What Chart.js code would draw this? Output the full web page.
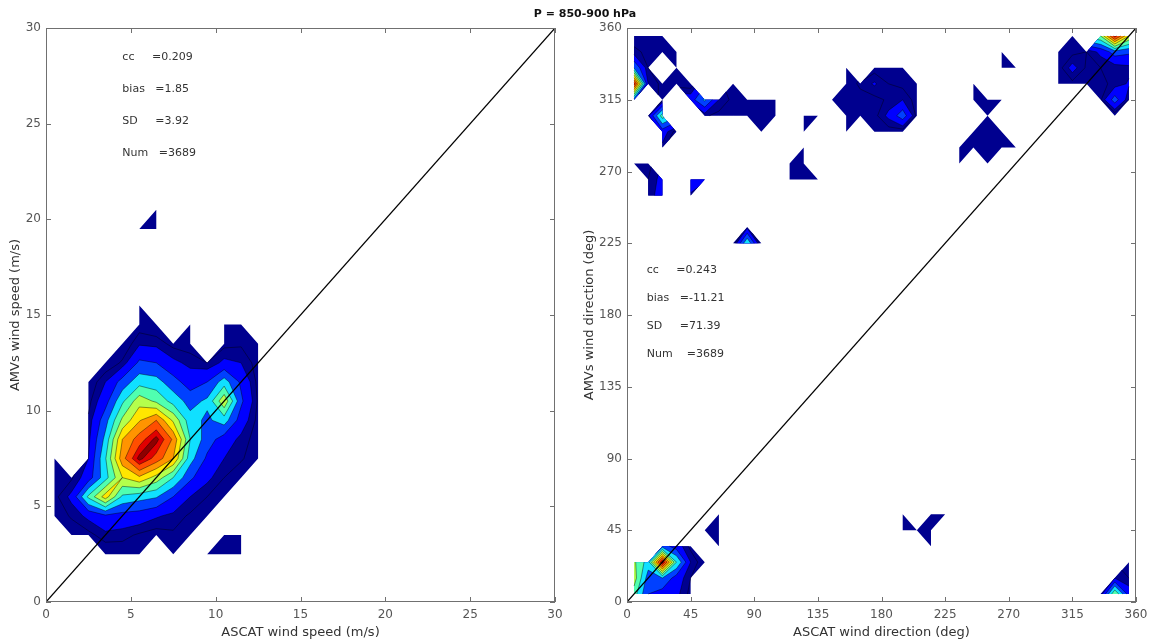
<!DOCTYPE html>
<html>
<head>
<meta charset="utf-8">
<title>P = 850-900 hPa</title>
<script src="https://cdn.jsdelivr.net/npm/chart.js@4.4.1/dist/chart.umd.min.js"></script>
<style>
  html, body { margin: 0; padding: 0; background: #fff; }
  body { width: 1155px; height: 643px; position: relative; overflow: hidden; }
  canvas { position: absolute; top: 0; }
  #speedChart { left: 0; }
  #dirChart { left: 575px; }
  #title { position: absolute; top: 7px; left: 0; width: 1170px; text-align: center;
           font: bold 11px "DejaVu Sans", sans-serif; color: #111; }
</style>
</head>
<body>
<canvas id="speedChart" width="575" height="643"></canvas>
<canvas id="dirChart" width="580" height="643"></canvas>
<div id="title">P = 850-900 hPa</div>
<script>
const n = null;

// speed bin centres (m/s)
const speedX = [0.5, 1.5, 2.5, 3.5, 4.5, 5.5, 6.5, 7.5, 8.5, 9.5, 10.5, 11.5, 12.5];
const speedY = [0.5, 1.5, 2.5, 3.5, 4.5, 5.5, 6.5, 7.5, 8.5, 9.5, 10.5,
                11.5, 12.5, 13.5, 14.5, 15.5, 16.5, 17.5, 18.5, 19.5, 20.5];

// density of AMV speed (rows, from 20.5 down to 0.5) vs ASCAT speed (columns)
const speedRows = [
  [n, n, n, n, n, n, 0, n, n, n, n, n, n],
  [n, n, n, n, n, 0, 0, n, n, n, n, n, n],
  [n, n, n, n, n, n, n, n, n, n, n, n, n],
  [n, n, n, n, n, n, n, n, n, n, n, n, n],
  [n, n, n, n, n, n, n, n, n, n, n, n, n],
  [n, n, n, n, n, 0, n, n, n, n, n, n, n],
  [n, n, n, n, n, 0.2, 0, n, 0, n, 0, 0, n],
  [n, n, n, n, 0, 0.9, 0.8, 0.3, 0.2, n, 0.3, 0.4, 0],
  [n, n, n, 0, 0.6, 2.2, 2.0, 1.2, 0.8, 0.5, 1.2, 1.0, 0.2],
  [n, n, 0, 1.0, 2.4, 3.6, 3.4, 2.4, 1.5, 2.0, 3.5, 1.8, 0.3],
  [n, n, 0.3, 1.6, 3.8, 5.6, 4.8, 3.6, 2.6, 3.2, 5.8, 2.2, 0.4],
  [n, n, 0.6, 2.6, 5.2, 6.9, 8.0, 5.8, 3.4, 2.8, 3.5, 1.5, 0.3],
  [n, n, 0.8, 3.3, 7.0, 8.5, 10, 7.8, 4.0, 2.5, 1.5, 0.8, 0.2],
  [0, n, 1.0, 3.9, 7.6, 10, 8.6, 7.0, 3.4, 1.8, 1.0, 0.6, 0],
  [0.2, 0.4, 1.5, 3.6, 6.0, 6.8, 5.6, 4.0, 2.2, 1.2, 0.5, 0, n],
  [0.3, 1.2, 4.2, 6.5, 3.8, 3.4, 3.1, 2.0, 1.0, 0.5, 0, n, n],
  [0, 0.6, 1.2, 1.8, 1.6, 1.5, 1.1, 0.8, 0.4, 0, n, n, n],
  [n, 0, 0.3, 0.8, 0.7, 0.4, 0.2, 0.4, 0, n, 0, 0, n],
  [n, n, n, 0, 0.1, 0, n, 0, n, 0, 0, 0, n],
  [n, n, n, n, n, n, n, n, n, n, n, n, n],
  [n, n, n, n, n, n, n, n, n, n, n, n, n]
];

// direction bin centres (deg)
const dirCenters = [5, 15, 25, 35, 45, 55, 65, 75, 85, 95, 105, 115, 125, 135, 145, 155, 165, 175,
                    185, 195, 205, 215, 225, 235, 245, 255, 265, 275, 285, 295, 305, 315, 325, 335, 345, 355];

// direction density: [ASCAT dir, AMV dir, value], empty bins left out
const dirBins = [
  [5,355,0.3],[15,355,0.2],[25,355,0],
  [5,345,0.6],[15,345,0.4],[25,345,0.2],[35,345,0],
  [5,335,3],[15,335,0.5],[35,335,0.1],
  [5,325,9.5],[15,325,1.0],[25,325,0.3],[35,325,0.2],[45,325,0.1],[75,325,0],
  [5,315,2.5],[25,315,0.3],[45,315,1.5],[55,315,3.2],[65,315,1.0],[75,315,0.3],[85,315,0.2],[95,315,0.1],[105,315,0],
  [15,305,0.8],[25,305,4.5],[55,305,0.6],[65,305,0.3],[75,305,0.2],[85,305,0.1],[95,305,0.2],[105,305,0],
  [25,295,1.5],[35,295,0.2],[95,295,0],
  [25,285,0.8],
  [5,275,0],[15,275,0.3],[15,265,0.5],[25,265,1.3],[15,255,0.6],[25,255,1.5],
  [45,265,1.5],[55,265,1.1],[45,255,0.9],
  [125,305,0],[135,305,0],[125,295,0],
  [125,285,0],[115,275,0],[125,275,0.3],[115,265,0.1],[125,265,0.2],[135,265,0],
  [155,335,0],[175,335,0.2],[185,335,0.3],[195,335,0],
  [155,325,0.2],[165,325,0.6],[175,325,1.1],[185,325,0.5],[195,325,0.3],[205,325,0],
  [145,315,0],[155,315,0.4],[165,315,0.3],[175,315,0.3],[185,315,0.6],[195,315,1.0],[205,315,0.2],
  [155,305,0.1],[165,305,0.1],[175,305,0.3],[185,305,1.2],[195,305,2.6],[205,305,0.3],
  [155,295,0],[175,295,0],[185,295,0.2],[195,295,0.1],
  [265,345,0],[265,335,0],[275,335,0],
  [245,325,0],[245,315,0],[255,315,0.2],[265,315,0],[255,305,0],
  [245,295,0.1],[255,295,0.3],[265,295,0.1],[235,285,0],[245,285,0.2],[255,285,0.4],[265,285,0.2],[275,285,0],
  [235,275,0],[255,275,0],
  [315,355,0],[335,355,5],[345,355,9.5],[355,355,6],
  [305,345,0],[315,345,0.3],[325,345,0.5],[335,345,1.2],[345,345,2.5],[355,345,2.2],
  [305,335,0.2],[315,335,1.3],[325,335,0.4],[335,335,0.5],[345,335,0.6],[355,335,0.8],
  [305,325,0],[315,325,0.3],[325,325,0.2],[335,325,0.4],[345,325,0.6],[355,325,1.1],
  [335,315,0.4],[345,315,2.5],[355,315,0.5],
  [345,305,0],
  [75,225,0],[85,225,4],[95,225,0],[85,235,0.8],
  [65,55,0],[65,45,0],[65,35,0],[55,45,0],
  [25,35,2.5],[35,35,1.5],[45,35,0.3],
  [5,25,5.2],[15,25,3.5],[25,25,10],[35,25,4],[45,25,1],[55,25,0],
  [5,15,5.5],[15,15,2.5],[25,15,3],[35,15,1.5],[45,15,0.5],
  [5,5,4.5],[15,5,2],[25,5,1.5],[35,5,1.2],[45,5,0.3],
  [195,55,0],[195,45,0],[205,45,0],[215,55,0],[225,55,0],[215,45,0],[215,35,0],
  [335,5,0.5],[345,5,5],[355,5,1.5],[345,15,1],[355,15,0.5],[355,25,0]
];

const speedStats = ['cc     =0.209', 'bias   =1.85', 'SD     =3.92', 'Num   =3689'];
const dirStats = ['cc     =0.243', 'bias   =-11.21', 'SD     =71.39', 'Num    =3689'];

const levels = [0, 0.5, 1, 2, 3, 4, 5, 6, 7, 8, 9, 9.7];
const levelColors = ['#00008f', '#00008f', '#0000ff', '#0040ff', '#10e0ff', '#50ffb0',
                     '#b4ff4c', '#ffe600', '#ff9400', '#ff4e00', '#e00000', '#8c0000'];

Chart.defaults.font.family = '"DejaVu Sans", sans-serif';

const speedGrid = speedRows.slice().reverse();
const dirGrid = dirCenters.map(() => dirCenters.map(() => null));
dirBins.forEach(([x, y, v]) => {
  dirGrid[dirCenters.indexOf(y)][dirCenters.indexOf(x)] = v;
});

// keep the part of a cell where value >= lv
function clipCell(pts, lv) {
  const out = [];
  for (let i = 0; i < pts.length; i++) {
    const a = pts[i], b = pts[(i + 1) % pts.length];
    const ain = a.v >= lv, bin = b.v >= lv;
    if (ain) out.push(a);
    if (ain !== bin) {
      const t = (lv - a.v) / (b.v - a.v);
      out.push({x: a.x + t * (b.x - a.x), y: a.y + t * (b.y - a.y), v: lv});
    }
  }
  return out;
}

function isoSegments(pts, lv) {
  const cross = [];
  for (let i = 0; i < pts.length; i++) {
    const a = pts[i], b = pts[(i + 1) % pts.length];
    const ain = a.v >= lv, bin = b.v >= lv;
    if (ain !== bin) {
      const t = (lv - a.v) / (b.v - a.v);
      cross.push({x: a.x + t * (b.x - a.x), y: a.y + t * (b.y - a.y), exit: ain});
    }
  }
  if (cross.length < 2) return [];
  const s = cross.findIndex(c => c.exit);
  const segs = [];
  for (let k = 0; k < cross.length; k += 2) {
    segs.push([cross[(s + k) % cross.length], cross[(s + k + 1) % cross.length]]);
  }
  return segs;
}

function contourPlugin(grid, xc, yc) {
  return {
    id: 'contour',
    beforeDatasetsDraw(chart) {
      const {ctx, scales} = chart;
      const cells = [];
      for (let j = 0; j < yc.length - 1; j++) {
        for (let k = 0; k < xc.length - 1; k++) {
          const corners = [[k, j], [k + 1, j], [k + 1, j + 1], [k, j + 1]]
            .filter(([a, b]) => grid[b][a] != null);
          if (corners.length < 3) continue;
          cells.push(corners.map(([a, b]) => ({
            x: scales.x.getPixelForValue(xc[a]),
            y: scales.y.getPixelForValue(yc[b]),
            v: grid[b][a]
          })));
        }
      }
      ctx.save();
      levels.forEach((lv, i) => {
        ctx.beginPath();
        cells.forEach(p => {
          const c = clipCell(p, lv);
          if (c.length < 3) return;
          ctx.moveTo(c[0].x, c[0].y);
          for (let q = 1; q < c.length; q++) ctx.lineTo(c[q].x, c[q].y);
          ctx.closePath();
        });
        ctx.fillStyle = levelColors[i];
        ctx.fill();
      });
      ctx.beginPath();
      levels.slice(1).forEach(lv => {
        cells.forEach(p => {
          isoSegments(p, lv).forEach(([a, b]) => { ctx.moveTo(a.x, a.y); ctx.lineTo(b.x, b.y); });
        });
      });
      ctx.strokeStyle = 'rgba(0,0,0,0.6)';
      ctx.lineWidth = 0.7;
      ctx.stroke();
      ctx.restore();
    }
  };
}

function framePlugin(stats, anchor, lineGap) {
  return {
    id: 'frame',
    afterDraw(chart) {
      const {ctx, chartArea: a, scales: {x, y}} = chart;
      ctx.save();
      ctx.strokeStyle = '#707070';
      ctx.lineWidth = 1;
      ctx.strokeRect(a.left + 0.5, a.top + 0.5, a.right - a.left - 1, a.bottom - a.top - 1);
      ctx.beginPath();
      x.ticks.forEach(t => {
        const px = Math.round(x.getPixelForValue(t.value)) + 0.5;
        ctx.moveTo(px, a.bottom); ctx.lineTo(px, a.bottom - 5);
        ctx.moveTo(px, a.top); ctx.lineTo(px, a.top + 5);
      });
      y.ticks.forEach(t => {
        const py = Math.round(y.getPixelForValue(t.value)) + 0.5;
        ctx.moveTo(a.left, py); ctx.lineTo(a.left + 5, py);
        ctx.moveTo(a.right, py); ctx.lineTo(a.right - 5, py);
      });
      ctx.stroke();
      ctx.fillStyle = '#333';
      ctx.font = '11px "DejaVu Sans", sans-serif';
      ctx.textBaseline = 'middle';
      const sx = x.getPixelForValue(anchor[0]);
      const sy = y.getPixelForValue(anchor[1]);
      stats.forEach((s, i) => ctx.fillText(s, sx, sy + i * lineGap));
      ctx.restore();
    }
  };
}

function makeChart(id, cfg) {
  const tickFont = {size: 12};
  return new Chart(document.getElementById(id), {
    type: 'scatter',
    data: {
      datasets: [{
        type: 'line',
        data: [{x: cfg.max, y: cfg.max}, {x: 0, y: 0}],
        borderColor: '#000',
        borderWidth: 1.2,
        pointRadius: 0,
        fill: false
      }]
    },
    options: {
      responsive: false,
      animation: false,
      layout: {padding: {left: 0, right: cfg.padRight, top: 28, bottom: 0}},
      plugins: {legend: {display: false}, tooltip: {enabled: false}},
      scales: {
        x: {
          type: 'linear', min: 0, max: cfg.max,
          ticks: {stepSize: cfg.step, color: '#555', font: tickFont, padding: 6, maxRotation: 0, autoSkip: false},
          grid: {display: false, drawTicks: false},
          border: {display: false},
          title: {display: true, text: cfg.xTitle, color: '#333', font: {size: 13}, padding: {top: 0, bottom: 3}},
          afterFit(s) { s.height = 41; }
        },
        y: {
          type: 'linear', min: 0, max: cfg.max,
          ticks: {stepSize: cfg.step, color: '#555', font: tickFont, padding: 5, autoSkip: false},
          grid: {display: false, drawTicks: false},
          border: {display: false},
          title: {display: true, text: cfg.yTitle, color: '#333', font: {size: 13}, padding: {top: cfg.yTitlePad, bottom: 0}},
          afterFit(s) { s.width = cfg.yWidth; }
        }
      }
    },
    plugins: [cfg.contour, cfg.frame]
  });
}

makeChart('speedChart', {
  max: 30, step: 5, padRight: 20, yWidth: 46, yTitlePad: 8,
  xTitle: 'ASCAT wind speed (m/s)', yTitle: 'AMVs wind speed (m/s)',
  contour: contourPlugin(speedGrid, speedX, speedY),
  frame: framePlugin(speedStats, [4.5, 28.5], 32)
});

makeChart('dirChart', {
  max: 360, step: 45, padRight: 19, yWidth: 52, yTitlePad: 7,
  xTitle: 'ASCAT wind direction (deg)', yTitle: 'AMVs wind direction (deg)',
  contour: contourPlugin(dirGrid, dirCenters, dirCenters),
  frame: framePlugin(dirStats, [14, 208], 28)
});
</script>
</body>
</html>
